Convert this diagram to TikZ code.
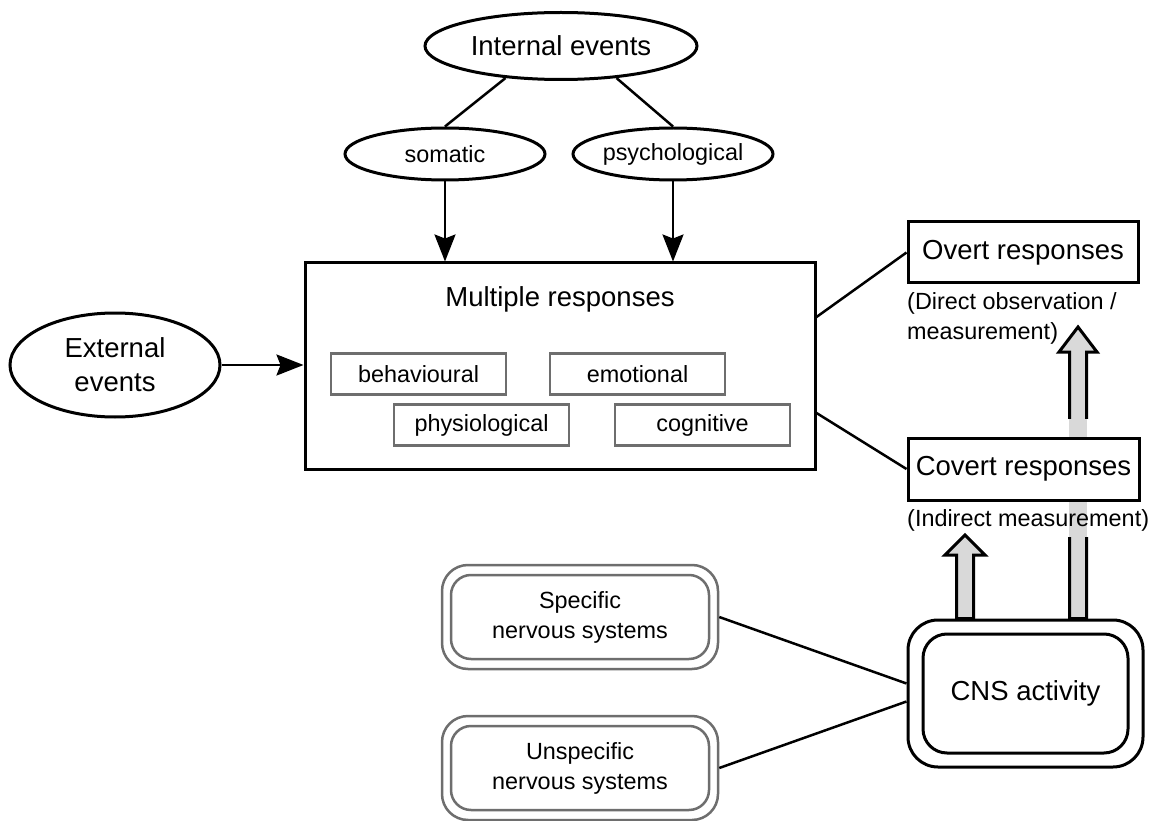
\documentclass[tikz,border=0pt]{standalone}
\usepackage{fontspec}
\setmainfont{Liberation Sans}
\usetikzlibrary{shapes.geometric,arrows.meta,calc,backgrounds}
\definecolor{lgray}{RGB}{217,217,217}
\definecolor{bgray}{RGB}{110,110,110}
\begin{document}
\begin{tikzpicture}[x=1pt,y=-1pt,
 big/.style={font=\fontsize{27.5}{34}\selectfont},
 small/.style={font=\fontsize{23.4}{30}\selectfont},
 oval/.style={ellipse,draw,line width=3pt,inner sep=0pt,fill=white},
 mainbox/.style={rectangle,draw,line width=3pt,inner sep=0pt,fill=white},
 subbox/.style={rectangle,draw=bgray,line width=2.5pt,inner sep=0pt,minimum width=175pt,minimum height=41pt,small},
 nsouter/.style={rectangle,draw=bgray,line width=2.5pt,rounded corners=26pt,minimum width=276pt,minimum height=104pt,fill=white},
 nsinner/.style={rectangle,draw=bgray,line width=2.5pt,rounded corners=20pt,minimum width=258pt,minimum height=84pt,small,align=center},
 link/.style={line width=2.5pt},
 arr/.style={line width=2.5pt,-{Stealth[length=27pt,width=21pt,inset=4pt]}},
 blockarrow/.style={fill=lgray,draw,line width=3pt,line join=miter},
]
\useasboundingbox (0,0) rectangle (1149,821);

% top ellipses
\node[oval,big,minimum width=272pt,minimum height=67pt] (ie) at (561,46) {Internal events};
\node[oval,small,minimum width=200pt,minimum height=52pt] (som) at (445,154) {somatic};
\node[oval,small,minimum width=200pt,minimum height=52pt] (psy) at (673,154) {psychological};
\node[oval,big,minimum width=210pt,minimum height=104pt,align=center] (ext) at (115,365) {External\\events};

% main box
\node[mainbox,minimum width=510pt,minimum height=206pt] (mr) at (560,366) {};
\node[big] (mrt) at (560,299) {Multiple responses};
\node[subbox] (beh) at (418.5,374) {behavioural};
\node[subbox] (emo) at (637.5,374) {emotional};
\node[subbox] (phy) at (481.5,425) {physiological};
\node[subbox] (cog) at (702.5,425) {cognitive};

% right boxes
\node[mainbox,big,minimum width=230pt,minimum height=61pt] (ov) at (1023,252.5) {Overt responses};
\node[mainbox,big,minimum width=231pt,minimum height=62pt] (cv) at (1023.5,469) {Covert responses};
\node[small,align=left,anchor=west,inner sep=0pt] (dobs) at (907,318) {(Direct observation /\\measurement)};
\node[small,anchor=west,inner sep=0pt] (iobs) at (907,520) {(Indirect measurement)};

% CNS
\node[rectangle,draw,line width=3pt,rounded corners=30pt,minimum width=235pt,minimum height=147pt,fill=white] (cns) at (1025.5,693.5) {};
\node[rectangle,draw,line width=3pt,rounded corners=24pt,minimum width=205pt,minimum height=119pt,big] (cnsi) at (cns.center) {CNS activity};

% nervous systems
\node[nsouter] (spec) at (580,617) {};
\node[nsinner] (speci) at (spec.center) {Specific\\nervous systems};
\node[nsouter] (unspec) at (580,768) {};
\node[nsinner] (unspeci) at (unspec.center) {Unspecific\\nervous systems};

% connectors
\draw[link] (ie.210) -- (som.north);
\draw[link] (ie.330) -- (psy.north);
\draw[arr] (som.south) -- (som.south |- mr.north);
\draw[arr] (psy.south) -- (psy.south |- mr.north);
\draw[arr] (ext.east) -- (ext.east -| mr.west);
\draw[link] ($(mr.east)+(0,-49)$) -- (ov.west);
\draw[link] ($(mr.east)+(0,47)$) -- (cv.west);
\draw[link] (spec.east) -- ($(cns.west)+(0,-10)$);
\draw[link] (unspec.east) -- ($(cns.west)+(0,8)$);

% block arrows
\coordinate (a1t) at (1078,327);
\coordinate (a1b) at (cns.north -| a1t);
\coordinate (a2t) at (965,535);
\coordinate (a2b) at (cns.north -| a2t);
\begin{scope}[on background layer]
\draw[blockarrow] ($(a1b)+(-8.5,0)$) -- ($(a1t)+(-8.5,25)$) -- ($(a1t)+(-19,25)$) -- (a1t)
  -- ($(a1t)+(19,25)$) -- ($(a1t)+(8.5,25)$) -- ($(a1b)+(8.5,0)$) -- cycle;
\draw[blockarrow] ($(a2b)+(-8.5,0)$) -- ($(a2t)+(-8.5,20)$) -- ($(a2t)+(-20,20)$) -- (a2t)
  -- ($(a2t)+(20,20)$) -- ($(a2t)+(8.5,20)$) -- ($(a2b)+(8.5,0)$) -- cycle;
\fill[white] ($(a1t |- cv.north)+(-14,-18)$) rectangle ($(a1t |- cv.south)+(14,35)$);
\fill[lgray] ($(a1t |- cv.north)+(-9,-18)$) rectangle ($(a1t |- cv.south)+(9,35)$);
\end{scope}
\end{tikzpicture}
\end{document}
